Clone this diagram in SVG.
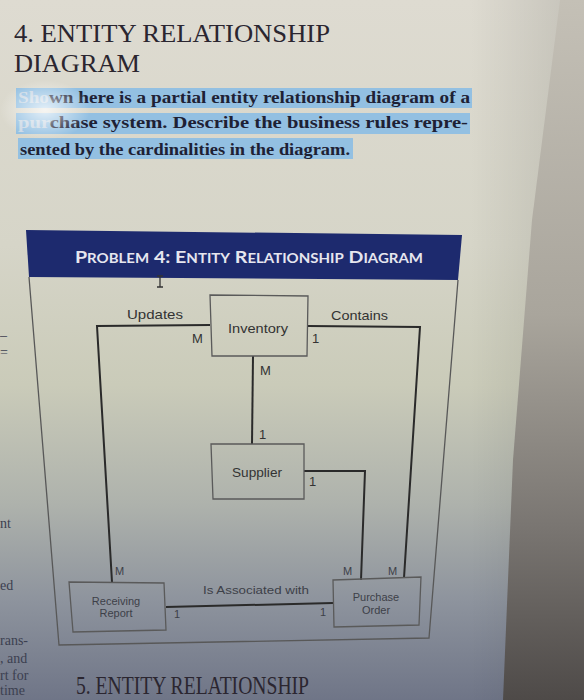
<svg xmlns="http://www.w3.org/2000/svg" width="584" height="700" viewBox="0 0 584 700">
<defs>
<linearGradient id="bg" x1="0" y1="0" x2="0" y2="1">
<stop offset="0" stop-color="#dedbd1"/>
<stop offset="0.35" stop-color="#d6d5c8"/>
<stop offset="0.55" stop-color="#cacbb9"/>
<stop offset="0.72" stop-color="#aeb2ac"/>
<stop offset="0.86" stop-color="#8d939d"/>
<stop offset="1" stop-color="#6f7587"/>
</linearGradient>
<linearGradient id="shade" x1="0" y1="0" x2="0" y2="1">
<stop offset="0" stop-color="#c4c0b6"/>
<stop offset="0.45" stop-color="#a9a59c"/>
<stop offset="0.75" stop-color="#7a7672"/>
<stop offset="1" stop-color="#4e4a48"/>
</linearGradient>
<linearGradient id="shadeh" x1="0" y1="0" x2="1" y2="0">
<stop offset="0" stop-color="#000" stop-opacity="0"/>
<stop offset="1" stop-color="#000" stop-opacity="0.12"/>
</linearGradient>
<radialGradient id="glare" cx="0.5" cy="0.5" r="0.5">
<stop offset="0" stop-color="#ffffff" stop-opacity="0.75"/>
<stop offset="1" stop-color="#ffffff" stop-opacity="0"/>
</radialGradient>
<style>
.title{font-family:"Liberation Serif","Times New Roman",serif;font-size:26px;fill:#2b2630}
.para{font-family:"Liberation Serif","Times New Roman",serif;font-size:17px;font-weight:bold;fill:#1e2134}
.frag{font-family:"Liberation Serif","Times New Roman",serif;font-size:14px;fill:#3c4050}
.hl{fill:#93c0e2}
.hdr{font-family:Lato,"Open Sans",sans-serif;font-weight:bold;fill:#e6e6ef}
.lbl{font-family:"Liberation Sans",Arial,sans-serif;font-size:13px;fill:#333}
.sm{font-family:"Liberation Sans",Arial,sans-serif;font-size:11px;fill:#3d4048}
.box{fill:none;stroke:#5a5a5a;stroke-width:1.3}
.conn{fill:none;stroke:#2a2a2a;stroke-width:2}
.frame{fill:none;stroke:#585858;stroke-width:1.3}
</style>
</defs>
<rect width="584" height="700" fill="url(#bg)"/>
<rect x="470" y="0" width="114" height="700" fill="url(#shadeh)"/>
<polygon points="560,0 584,0 584,700 503,700 513,460 532,220" fill="url(#shade)"/>

<g id="heading">
<text class="title" x="14" y="42" textLength="316" lengthAdjust="spacingAndGlyphs">4. ENTITY RELATIONSHIP</text>
<text class="title" x="14" y="72" textLength="126" lengthAdjust="spacingAndGlyphs">DIAGRAM</text>
</g>

<g id="paragraph">
<rect class="hl" x="16" y="88" width="456" height="20"/>
<rect class="hl" x="16" y="113" width="454" height="21"/>
<rect class="hl" x="18" y="138" width="335" height="21"/>
<text class="para" x="18" y="103" textLength="452" lengthAdjust="spacingAndGlyphs"><tspan fill="#c9d7e4">Sho</tspan>wn here is a partial entity relationship diagram of a</text>
<text class="para" x="18" y="128" textLength="450" lengthAdjust="spacingAndGlyphs"><tspan fill="#c9d7e4">pur</tspan>chase system. Describe the business rules repre-</text>
<text class="para" x="20" y="155" textLength="330" lengthAdjust="spacingAndGlyphs">sented by the cardinalities in the diagram.</text>
<ellipse cx="45" cy="110" rx="45" ry="30" fill="url(#glare)"/>
</g>

<g id="side-text">
<text class="frag" x="0" y="340">–</text>
<text class="frag" x="0" y="357">=</text>
<text class="frag" x="0" y="528">nt</text>
<text class="frag" x="0" y="590">ed</text>
<text class="frag" x="0" y="645">rans-</text>
<text class="frag" x="0" y="663">, and</text>
<text class="frag" x="0" y="680">rt for</text>
<text class="frag" x="0" y="695">time</text>
<text class="title" x="76" y="694" font-size="17" fill="#2a3155" textLength="233" lengthAdjust="spacingAndGlyphs">5. ENTITY RELATIONSHIP</text>
</g>

<g id="header-band">
<polygon points="26,230 462,235 458,280 29,277" fill="#1d2a6e"/>
<text class="hdr" x="75" y="263" textLength="348" lengthAdjust="spacingAndGlyphs"><tspan font-size="17">P</tspan><tspan font-size="13">ROBLEM</tspan><tspan font-size="17"> 4:  E</tspan><tspan font-size="13">NTITY</tspan><tspan font-size="17"> R</tspan><tspan font-size="13">ELATIONSHIP</tspan><tspan font-size="17"> D</tspan><tspan font-size="13">IAGRAM</tspan></text>
<path d="M157,276 H163 M160,276 V287 M157,287 H163" stroke="#333" stroke-width="1.3" fill="none"/>
</g>

<g id="frame">
<polyline class="frame" points="29,277 59,645 429,638 458,280"/>
</g>

<g id="connectors">
<polyline class="conn" points="210,325 97,326 112,582"/>
<polyline class="conn" points="308,326 420,327 404,578"/>
<line class="conn" x1="253" y1="356" x2="252" y2="444"/>
<polyline class="conn" points="304,471 365,471 361,580"/>
<line class="conn" x1="166" y1="607" x2="333" y2="603"/>
<text class="lbl" x="127" y="319" font-size="14" textLength="56" lengthAdjust="spacingAndGlyphs">Updates</text>
<text class="lbl" x="331" y="320" font-size="14" textLength="57" lengthAdjust="spacingAndGlyphs">Contains</text>
<text class="lbl" x="192" y="343">M</text>
<text class="lbl" x="312" y="343">1</text>
<text class="lbl" x="260" y="375">M</text>
<text class="lbl" x="259" y="439">1</text>
<text class="lbl" x="309" y="486">1</text>
<text class="sm" x="115" y="575">M</text>
<text class="sm" x="174" y="618">1</text>
<text class="sm" x="203" y="594" textLength="106" lengthAdjust="spacingAndGlyphs">Is Associated with</text>
<text class="sm" x="320" y="616">1</text>
<text class="sm" x="343" y="575">M</text>
<text class="sm" x="388" y="575">M</text>
</g>

<g id="inventory">
<polygon class="box" points="210,295 308,296 307,356 212,356"/>
<text class="lbl" x="258" y="333" font-size="14" text-anchor="middle" textLength="60" lengthAdjust="spacingAndGlyphs">Inventory</text>
</g>

<g id="supplier">
<polygon class="box" points="211,444 304,444 304,499 213,499"/>
<text class="lbl" x="257" y="477" text-anchor="middle" textLength="50" lengthAdjust="spacingAndGlyphs">Supplier</text>
</g>

<g id="receiving-report">
<polygon class="box" points="69,582 164,583 166,630 73,632"/>
<text class="sm" x="116" y="605" text-anchor="middle">Receiving</text>
<text class="sm" x="116" y="617" text-anchor="middle">Report</text>
</g>

<g id="purchase-order">
<polygon class="box" points="333,580 421,577 419,625 334,627"/>
<text class="sm" x="376" y="601" text-anchor="middle">Purchase</text>
<text class="sm" x="376" y="614" text-anchor="middle">Order</text>
</g>
</svg>
